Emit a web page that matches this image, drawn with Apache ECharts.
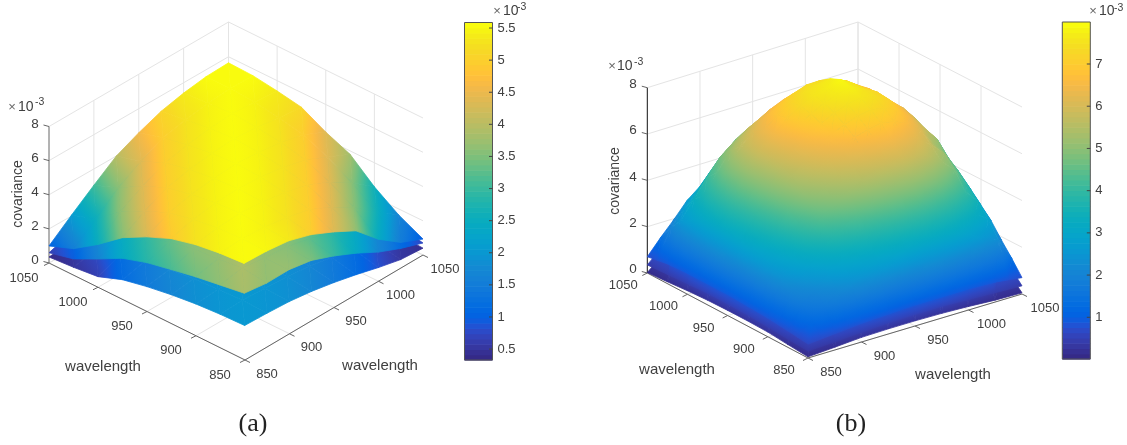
<!DOCTYPE html>
<html><head><meta charset="utf-8">
<style>html,body{margin:0;padding:0;background:#fff}#c{width:1127px;height:445px}</style>
<script src="https://cdn.jsdelivr.net/npm/echarts@6/dist/echarts.min.js"></script>
</head><body><div id="c"></div>
<script>
const wavelengths=[850,875,900,925,950,975,1000,1025,1050];
const wavelengthsFine=[850,862.5,875,887.5,900,912.5,925,937.5,950,962.5,975,987.5,1000,1012.5,1025,1037.5,1050];
const wavelengthTicks=[850,900,950,1000,1050];
const covTicks=[0,2,4,6,8];
const barTicksA=[0.5,1,1.5,2,2.5,3,3.5,4,4.5,5,5.5];
const barTicksB=[1,2,3,4,5,6,7];
const climA=[0.33,5.586];
const climB=[0.012,7.995];
// covariance (x 1e-3): rows = wavelength along the right axis, columns = wavelength along the left axis
const surfaceA1=[
[5.6,5.5,5.3,4.95,4.35,3.6,2.5,1.55,1.0],
[5.55,5.6,5.5,5.3,5.0,4.4,3.65,2.55,2.05],
[5.4,5.5,5.6,5.5,5.3,5.0,4.4,3.6,3.05],
[5.0,5.3,5.5,5.6,5.5,5.3,5.0,4.4,4.0],
[4.4,5.0,5.3,5.5,5.6,5.5,5.3,5.0,4.6],
[3.7,4.4,5.0,5.3,5.5,5.6,5.5,5.3,5.1],
[2.45,3.6,4.4,5.0,5.3,5.5,5.6,5.5,5.4],
[1.5,2.6,3.6,4.4,5.0,5.3,5.5,5.6,5.6],
[0.93,1.65,2.6,3.8,4.4,5.15,5.4,5.6,5.65]];
const surfaceA2=[
[3.87,3.65,3.43,3.15,2.85,2.4,1.65,0.95,0.6],
[3.7,3.9,3.7,3.6,3.3,2.9,2.4,1.7,1.05],
[3.72,3.7,3.9,3.7,3.6,3.3,2.9,2.4,1.7],
[3.5,3.6,3.7,3.9,3.7,3.6,3.3,2.9,2.4],
[3.0,3.3,3.6,3.7,3.9,3.7,3.6,3.3,2.9],
[2.4,2.9,3.3,3.6,3.7,3.9,3.7,3.6,3.3],
[1.7,2.4,2.9,3.3,3.6,3.7,3.9,3.7,3.6],
[1.15,1.7,2.4,2.9,3.3,3.6,3.7,3.9,3.7],
[0.7,1.05,1.7,2.4,2.9,3.3,3.6,3.7,3.9]];
const surfaceA3=[
[2.0,1.95,1.85,1.68,1.45,1.15,0.62,0.46,0.35],
[1.95,2.0,1.95,1.85,1.7,1.45,1.15,0.75,0.5],
[1.87,1.95,2.0,1.95,1.85,1.7,1.45,1.15,0.75],
[1.7,1.85,1.95,2.0,1.95,1.85,1.7,1.45,1.15],
[1.45,1.7,1.85,1.95,2.0,1.95,1.85,1.7,1.45],
[1.15,1.45,1.7,1.85,1.95,2.0,1.95,1.85,1.7],
[0.8,1.15,1.45,1.7,1.85,1.95,2.0,1.95,1.85],
[0.5,0.75,1.15,1.45,1.7,1.85,1.95,2.0,1.95],
[0.4,0.5,0.75,1.15,1.45,1.7,1.85,1.95,2.0]];
const surfaceB1=[
[0.6,0.65,0.7,0.75,0.8,0.83,0.85,0.88,0.9,0.9,0.9,0.9,0.9,0.88,0.85,0.78,0.7],
[0.65,1.27,1.65,2.04,2.39,2.61,2.80,2.94,3.05,3.13,3.18,3.13,3.02,2.81,2.54,2.0,1.35],
[0.7,1.65,2.15,2.65,3.10,3.39,3.64,3.82,3.97,4.07,4.13,4.07,3.93,3.66,3.31,2.65,1.95],
[0.75,2.04,2.65,3.26,3.82,4.17,4.48,4.71,4.88,5.01,5.09,5.01,4.83,4.50,4.07,3.2,2.6],
[0.8,2.39,3.10,3.82,4.47,4.89,5.25,5.52,5.72,5.87,5.96,5.87,5.66,5.28,4.77,3.9,3.05],
[0.83,2.61,3.39,4.17,4.89,5.35,5.74,6.03,6.26,6.42,6.52,6.42,6.19,5.77,5.22,4.5,3.55],
[0.85,2.80,3.64,4.48,5.25,5.74,6.16,6.47,6.72,6.89,7.00,6.89,6.65,6.19,5.60,4.97,3.95],
[0.88,2.94,3.82,4.71,5.52,6.03,6.47,6.80,7.06,7.24,7.35,7.24,6.99,6.51,5.88,5.15,4.41],
[0.9,3.05,3.97,4.88,5.72,6.26,6.72,7.06,7.33,7.52,7.63,7.52,7.25,6.75,6.0,5.42,4.58],
[0.9,3.13,4.07,5.01,5.87,6.42,6.89,7.24,7.52,7.71,7.75,7.65,7.44,6.88,6.1,5.56,4.70],
[0.9,3.18,4.13,5.09,5.96,6.52,7.00,7.35,7.63,7.83,7.95,7.75,7.45,7.04,6.1,5.64,4.77],
[0.9,3.13,4.07,5.01,5.87,6.42,6.89,7.24,7.52,7.6,7.6,7.5,7.3,6.85,6.1,5.56,4.70],
[0.9,3.02,3.93,4.83,5.66,6.19,6.65,6.99,7.25,7.3,7.2,7.15,7.1,6.68,6.04,5.36,4.53],
[0.88,2.81,3.66,4.50,5.28,5.77,6.19,6.51,6.7,6.75,6.78,6.8,6.68,6.23,5.63,5.00,4.22],
[0.85,2.54,3.31,4.07,4.77,5.22,5.4,5.88,6.11,6.26,6.2,6.2,6.04,5.63,5.09,4.52,3.82],
[0.78,2.26,2.94,3.45,3.9,4.35,4.7,5.22,5.35,5.56,5.64,5.56,5.36,5.00,4.52,4.01,3.39],
[0.7,1.3,1.85,2.45,2.9,3.35,3.7,4.1,4.4,4.6,4.77,4.70,4.53,4.22,3.82,3.39,2.86]];
const surfaceB2=[
[0.3,0.35,0.42,0.48,0.5,0.5,0.45,0.4,0.35],
[0.35,1.6,2.6,3.1,3.5,3.6,3.6,2.9,1.4],
[0.42,2.6,4.0,4.8,5.2,5.4,5.3,4.2,2.5],
[0.48,3.1,4.8,5.7,6.2,6.5,6.2,5.0,3.3],
[0.5,3.5,5.2,6.2,6.8,7.1,6.7,5.7,3.7],
[0.5,3.6,5.4,6.5,7.1,7.4,6.9,6.0,3.8],
[0.45,3.6,5.3,6.2,6.5,6.7,6.5,5.7,3.8],
[0.4,3.0,4.5,5.0,5.7,5.7,5.7,5.2,3.2],
[0.35,1.3,2.3,3.1,3.7,3.8,3.8,3.2,1.9]];
const surfaceB3=[
[0.05,0.12,0.2,0.22,0.22,0.2,0.15,0.08,0.02],
[0.12,1.2,2.2,2.7,3.1,3.2,3.2,2.5,1.0],
[0.2,2.2,3.6,4.4,4.8,5.0,4.9,3.8,2.1],
[0.22,2.7,4.4,5.3,5.8,6.1,5.8,4.6,2.9],
[0.22,3.1,4.8,5.8,6.4,6.7,6.3,5.3,3.3],
[0.2,3.2,5.0,6.1,6.7,7.0,6.5,5.6,3.4],
[0.15,3.2,4.9,5.8,6.1,6.3,6.1,5.3,3.4],
[0.08,2.6,4.1,4.6,5.3,5.3,5.3,4.8,2.8],
[0.05,0.9,1.9,2.7,3.3,3.4,3.4,2.8,1.5]];

const parula=[[.2081,.1663,.5292],[.2116,.1898,.5777],[.2123,.2138,.6270],[.2081,.2386,.6771],[.1959,.2645,.7279],[.1707,.2919,.7792],[.1253,.3242,.8303],[.0591,.3598,.8683],[.0117,.3875,.8820],[.0060,.4086,.8828],[.0165,.4266,.8786],[.0329,.4430,.8720],[.0498,.4586,.8641],[.0629,.4737,.8554],[.0723,.4887,.8467],[.0779,.5040,.8384],[.0793,.5200,.8312],[.0749,.5375,.8263],[.0641,.5570,.8240],[.0488,.5772,.8228],[.0343,.5966,.8199],[.0265,.6137,.8135],[.0239,.6287,.8038],[.0231,.6418,.7913],[.0228,.6535,.7768],[.0267,.6642,.7607],[.0384,.6743,.7436],[.0590,.6838,.7254],[.0843,.6928,.7062],[.1133,.7015,.6859],[.1453,.7098,.6646],[.1801,.7177,.6424],[.2178,.7250,.6193],[.2586,.7317,.5954],[.3022,.7376,.5712],[.3482,.7424,.5473],[.3953,.7459,.5244],[.4420,.7481,.5033],[.4871,.7491,.4840],[.5300,.7491,.4661],[.5709,.7485,.4494],[.6099,.7473,.4337],[.6473,.7456,.4188],[.6834,.7435,.4044],[.7184,.7411,.3905],[.7525,.7384,.3768],[.7858,.7356,.3633],[.8185,.7327,.3498],[.8507,.7299,.3360],[.8824,.7274,.3217],[.9139,.7258,.3063],[.9450,.7261,.2886],[.9739,.7314,.2666],[.9938,.7455,.2403],[.9990,.7653,.2164],[.9955,.7861,.1967],[.9880,.8066,.1794],[.9789,.8271,.1633],[.9697,.8481,.1475],[.9626,.8705,.1309],[.9589,.8949,.1132],[.9598,.9218,.0948],[.9661,.9514,.0755],[.9763,.9831,.0538]];
function colorAt(f){
  f=Math.max(0,Math.min(1,f))*(parula.length-1);
  const k=Math.min(parula.length-2,Math.floor(f)),t=f-k,a=parula[k],b=parula[k+1];
  return 'rgb('+[0,1,2].map(n=>Math.round(255*(a[n]+(b[n]-a[n])*t))).join(',')+')';
}
const panels={
 a:{clim:climA,floor:{F:[245,360],L:[49,263],R:[423,255],B:[228.5,161]},top:{F:[243.5,222],L:[49,126.5],R:[423,118],B:[228.5,22]},
    zAxisColor:'#666',
    leftOff:[-25,15],rightOff:[22,14],zLabelX:35,zLabelDy:-2.5,
    wl1:[103,367],wl2:[380,366],cov:[18,194],exp:[12,18,35,107,102],tag:['(a)',253,424]},
 b:{clim:climB,floor:{F:[808,358],L:[647.3,273],R:[1022,294],B:[858,210]},top:{F:[810,172],L:[647.3,87.7],R:[1022,107],B:[858,22]},
    zAxisColor:'#111',
    leftOff:[-24,12.5],rightOff:[23,14],zLabelX:633,zLabelDy:-3.5,
    wl1:[677,370],wl2:[953,375],cov:[615,181],exp:[612,617,634,66,62],tag:['(b)',851,424]}
};
function project(p,wx,wy,z){
  const u=(wx-850)/200,v=(wy-850)/200,w=z/8;
  const bil=(c,n)=>c.F[n]*(1-u)*(1-v)+c.R[n]*u*(1-v)+c.L[n]*(1-u)*v+c.B[n]*u*v;
  return [0,1].map(n=>bil(p.floor,n)*(1-w)+bil(p.top,n)*w);
}
function gouraud(pts,vals,clim){
  const f=vals.map(v=>(v-clim[0])/(clim[1]-clim[0]));
  const e1=[pts[1][0]-pts[0][0],pts[1][1]-pts[0][1]],e2=[pts[2][0]-pts[0][0],pts[2][1]-pts[0][1]];
  const det=e1[0]*e2[1]-e1[1]*e2[0];
  const mean=(f[0]+f[1]+f[2])/3;
  if(Math.abs(det)<1e-6) return colorAt(mean);
  const d1=f[1]-f[0],d2=f[2]-f[0];
  const gx=(d1*e2[1]-d2*e1[1])/det,gy=(d2*e1[0]-d1*e2[0])/det,g2=gx*gx+gy*gy;
  const lo=Math.min(f[0],f[1],f[2]),hi=Math.max(f[0],f[1],f[2]);
  if(g2<1e-12||hi-lo<1e-4) return colorAt(mean);
  const im=f.indexOf(lo),p=pts[im],s=(hi-lo)/g2;
  const stops=[];const N=Math.max(2,Math.ceil((hi-lo)*40));
  for(let k=0;k<=N;k++) stops.push({offset:k/N,color:colorAt(lo+(hi-lo)*k/N)});
  return {type:'linear',x:p[0],y:p[1],x2:p[0]+gx*s,y2:p[1]+gy*s,global:true,colorStops:stops};
}
function tri(pts,vals,clim){
  const fill=gouraud(pts,vals,clim);
  return {type:'polygon',shape:{points:pts},style:{fill:fill,stroke:fill,lineWidth:0.8}};
}
function surfaceSeries(p,m,axis){
  const cells=[];
  for(let i=0;i<axis.length-1;i++)for(let j=0;j<axis.length-1;j++)cells.push([i,j]);
  cells.sort((a,b)=>(b[0]+b[1])-(a[0]+a[1])||Math.abs(a[0]-a[1])-Math.abs(b[0]-b[1]));
  return {type:'custom',coordinateSystem:'cartesian2d',xAxisIndex:0,yAxisIndex:0,silent:true,animation:false,z:3,clip:false,data:cells,
    renderItem(params,api){
      const i=api.value(0),j=api.value(1);
      const pt=(a,b)=>api.coord(project(p,axis[a],axis[b],m[a][b]));
      const P00=pt(i,j),P10=pt(i+1,j),P01=pt(i,j+1),P11=pt(i+1,j+1);
      return {type:'group',children:[
        tri([P11,P10,P00],[m[i+1][j+1],m[i+1][j],m[i][j]],p.clim),
        tri([P11,P01,P00],[m[i+1][j+1],m[i][j+1],m[i][j]],p.clim)]};
    }};
}
const TXT='#404040',FONT='"Liberation Sans",Arial,sans-serif';
function text(x,y,s,size,opt){
  return Object.assign({type:'text',x:x,y:y,style:{text:s,font:size+'px '+FONT,fill:TXT,align:'center',verticalAlign:'middle'}},opt||{});
}
function frameSeries(p,z,labelsOnly){
  return {type:'custom',coordinateSystem:'cartesian2d',xAxisIndex:0,yAxisIndex:0,silent:true,animation:false,z:z,clip:false,data:[[0,0]],
    renderItem(params,api){
      const ch=[];
      const P=(x,y,c)=>api.coord(project(p,x,y,c));
      const seg=(a,b,col,w)=>ch.push({type:'line',shape:{x1:a[0],y1:a[1],x2:b[0],y2:b[1]},style:{stroke:col,lineWidth:w||1}});
      if(!labelsOnly){
        const GRID='#e4e4e4';
        wavelengthTicks.forEach(t=>{
          seg(P(t,850,0),P(t,1050,0),GRID); seg(P(850,t,0),P(1050,t,0),GRID);
          if(t>850){ seg(P(t,1050,0),P(t,1050,8),GRID); seg(P(1050,t,0),P(1050,t,8),GRID); }
        });
        covTicks.forEach(c=>{ seg(P(850,1050,c),P(1050,1050,c),GRID); seg(P(1050,850,c),P(1050,1050,c),GRID); });
        seg(P(850,850,0),P(850,1050,0),'#666'); seg(P(850,850,0),P(1050,850,0),'#666');
        seg(P(850,1050,0),P(850,1050,8),p.zAxisColor);
        wavelengthTicks.forEach(t=>{
          const a=P(850,t,0); seg(a,[a[0]-5,a[1]+2.5],'#666');
          const b=P(t,850,0); seg(b,[b[0]+5,b[1]+2.5],'#666');
        });
        covTicks.forEach(c=>{const a=P(850,1050,c); seg(a,[a[0]-5.5,a[1]-1.5],'#666');});
      } else {
        wavelengthTicks.forEach(t=>{
          const a=P(850,t,0); ch.push(text(a[0]+p.leftOff[0],a[1]+p.leftOff[1],String(t),13));
          const b=P(t,850,0); ch.push(text(b[0]+p.rightOff[0],b[1]+p.rightOff[1],String(t),13));
        });
        covTicks.forEach(c=>{const a=P(850,1050,c); ch.push(text(p.zLabelX,a[1]+p.zLabelDy,String(c),13.5));});
        ch.push(text(p.wl1[0],p.wl1[1],'wavelength',15));
        ch.push(text(p.wl2[0],p.wl2[1],'wavelength',15));
        ch.push(text(p.cov[0],p.cov[1],'covariance',14,{rotation:Math.PI/2}));
        exponent(ch,p.exp);
        ch.push({type:'text',x:p.tag[1],y:p.tag[2],style:{text:p.tag[0],font:'26px "Liberation Serif",serif',fill:'#222',align:'center',verticalAlign:'middle'}});
      }
      return {type:'group',children:ch};
    }};
}
function exponent(ch,e){
  ch.push({type:'text',x:e[0],y:e[3],style:{text:'×',font:'13px '+FONT,fill:'#666',align:'center',verticalAlign:'middle'}});
  ch.push({type:'text',x:e[1],y:e[3],style:{text:'10',font:'14px '+FONT,fill:TXT,align:'left',verticalAlign:'middle'}});
  ch.push({type:'text',x:e[2],y:e[4],style:{text:'-3',font:'10.5px '+FONT,fill:TXT,align:'left',verticalAlign:'middle'}});
}
function barSeries(idx,clim){
  return {type:'custom',coordinateSystem:'cartesian2d',xAxisIndex:idx,yAxisIndex:idx,silent:true,animation:false,z:2,
    data:parula.map((c,k)=>[k,0]),
    renderItem(params,api){
      const k=api.value(0),n=parula.length,h=(clim[1]-clim[0])/n;
      const a=api.coord([0,clim[0]+h*k]),b=api.coord([1,clim[0]+h*(k+1)]);
      return {type:'rect',shape:{x:a[0],y:b[1],width:b[0]-a[0],height:a[1]-b[1]+0.6},style:{fill:colorAt(k/(n-1))}};
    }};
}
function barTickSeries(idx,ticks){
  return {type:'custom',coordinateSystem:'cartesian2d',xAxisIndex:idx,yAxisIndex:idx,silent:true,animation:false,z:7,clip:false,
    data:ticks.map(t=>[1,t]),
    renderItem(params,api){
      const a=api.coord([1,api.value(1)]);
      return {type:'line',shape:{x1:a[0]-3.5,y1:a[1],x2:a[0],y2:a[1]},style:{stroke:'#444',lineWidth:1}};
    }};
}
function barExp(e){
  return {type:'custom',coordinateSystem:'cartesian2d',xAxisIndex:0,yAxisIndex:0,silent:true,animation:false,z:5,clip:false,data:[[0,0]],
    renderItem(){const ch=[];exponent(ch,e);return {type:'group',children:ch};}};
}
const barGrid=(l,t,w,h)=>({left:l,top:t,width:w,height:h,show:true,borderColor:'#555',borderWidth:1,backgroundColor:'transparent',z:4});
const barX=i=>({gridIndex:i,type:'value',min:0,max:1,show:false});
const barY=(i,clim,ticks)=>({gridIndex:i,type:'value',position:'right',min:clim[0],max:clim[1],scale:true,
  axisLine:{show:false},splitLine:{show:false},axisTick:{show:false},
  axisLabel:{show:true,color:TXT,fontFamily:FONT,fontSize:13,margin:5,customValues:ticks,formatter:v=>String(v)}});
const chart=echarts.init(document.getElementById('c'),null,{renderer:'canvas'});
chart.setOption({
  backgroundColor:'#fff',animation:false,
  grid:[{left:0,top:0,right:0,bottom:0,containLabel:false},barGrid(464.5,22.5,28,337.5),barGrid(1062.3,22,28,337)],
  xAxis:[{gridIndex:0,type:'value',min:0,max:1127,show:false},barX(1),barX(2)],
  yAxis:[{gridIndex:0,type:'value',min:0,max:445,inverse:true,show:false},barY(1,climA,barTicksA),barY(2,climB,barTicksB)],
  series:[
    frameSeries(panels.a,1,false),frameSeries(panels.b,1,false),
    surfaceSeries(panels.a,surfaceA3,wavelengths),surfaceSeries(panels.a,surfaceA2,wavelengths),surfaceSeries(panels.a,surfaceA1,wavelengths),
    surfaceSeries(panels.b,surfaceB3,wavelengths),surfaceSeries(panels.b,surfaceB2,wavelengths),surfaceSeries(panels.b,surfaceB1,wavelengthsFine),
    frameSeries(panels.a,6,true),frameSeries(panels.b,6,true),
    barSeries(1,climA),barSeries(2,climB),barTickSeries(1,barTicksA),barTickSeries(2,barTicksB),
    barExp([497,503,517,11,7]),barExp([1093,1099,1114,11,8])
  ]
});
</script></body></html>
